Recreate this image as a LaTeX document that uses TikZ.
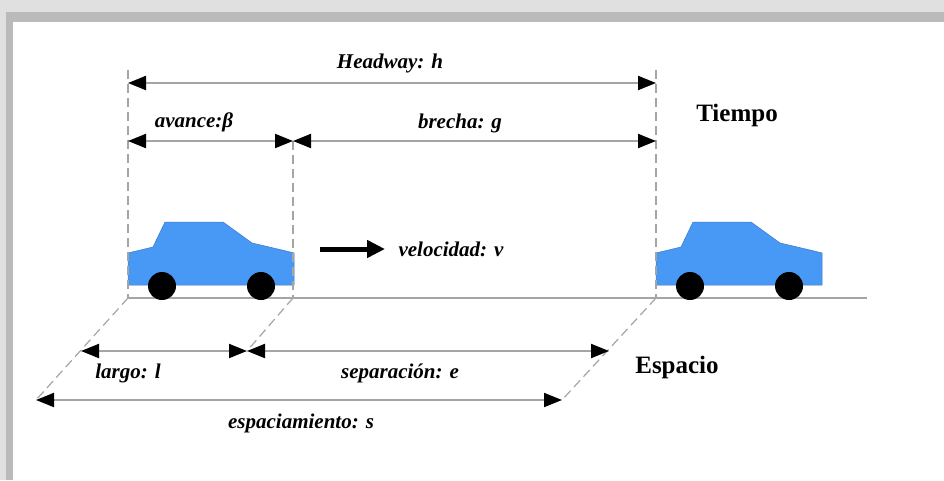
\documentclass[tikz,border=0pt]{standalone}
\usepackage{fontspec}
\setmainfont{Liberation Serif}
\usetikzlibrary{arrows.meta}
\definecolor{carblue}{RGB}{72,152,245}
\definecolor{dimgray}{RGB}{165,165,165}
\tikzset{
  dimline/.style={draw=dimgray, line width=2pt,
    {Triangle[length=18pt,width=14pt,color=black]}-{Triangle[length=18pt,width=14pt,color=black]}},
  guide/.style={draw=dimgray, line width=1.2pt, dash pattern=on 9pt off 5pt},
  lbl/.style={font=\fontsize{21}{21}\selectfont\bfseries\itshape},
  axislbl/.style={font=\fontsize{25}{25}\selectfont\bfseries},
}
\begin{document}
\begin{tikzpicture}[x=1pt, y=-1pt]
  \useasboundingbox (0,0) rectangle (944,480);
  \fill[white] (0,0) rectangle (944,480);
  \fill[black!12] (0,0) rectangle (944,12);
  \fill[black!12] (0,0) rectangle (6,480);
  \fill[black!27] (6,12) rectangle (944,22);
  \fill[black!27] (6,12) rectangle (13,480);

  \coordinate (hL) at (128,83);
  \coordinate (hR) at (656,83);
  \coordinate (aL) at (128,141);
  \coordinate (aM) at (293,141);
  \coordinate (aR) at (656,141);
  \coordinate (tL) at (128,70);
  \coordinate (tR) at (656,70);
  \coordinate (g1) at (128,298);
  \coordinate (g2) at (293,298);
  \coordinate (g3) at (656,298);
  \coordinate (gE) at (867,298);
  \coordinate (lL) at (81,351);
  \coordinate (lM) at (247,351);
  \coordinate (lR) at (609,351);
  \coordinate (sL) at (36,400);
  \coordinate (sR) at (562,400);
  \coordinate (v0) at (320,249);
  \coordinate (v1) at (385,249);

  \draw[dimgray, line width=1.5pt] (g1) -- (gE);
  % cars
  \foreach \dx in {0,528} {
    \begin{scope}[xshift=\dx pt]
      \fill[carblue, draw=carblue!80!black, line width=0.5pt]
        (128,285) -- (128,253) -- (153,247) -- (165,222) -- (223,222)
        -- (252,243) -- (282,250) -- (294,253) -- (294,285) -- cycle;
      \fill[black] (162,286) circle (14);
      \fill[black] (261,286) circle (14);
    \end{scope}
  }

  \draw[guide] (tL) -- (g1);
  \draw[guide] (aM) -- (g2);
  \draw[guide] (tR) -- (g3);
  \draw[guide] (g1) -- (sL);
  \draw[guide] (g2) -- (lM);
  \draw[guide] (g3) -- (sR);

  \draw[dimline] (hL) -- (hR);
  \draw[dimline] (aL) -- (aM);
  \draw[dimline] (aM) -- (aR);
  \draw[dimline] (lL) -- (lM);
  \draw[dimline] (lM) -- (lR);
  \draw[dimline] (sL) -- (sR);
  \draw[line width=5pt, -{Triangle[length=18pt,width=17pt]}] (v0) -- (v1);

  \node[lbl] (headway) at (390,63) {Headway: h};
  \node[lbl] (avance) at (194,122) {avance:β};
  \node[lbl] (brecha) at (460,123) {brecha: g};
  \node[axislbl] (tiempo) at (737,115) {Tiempo};
  \node[lbl] (velocidad) at (451,249) {velocidad: v};
  \node[lbl] (largo) at (128,373) {largo: l};
  \node[lbl] (separacion) at (400,373) {separación: e};
  \node[lbl] (espaciamiento) at (301,423) {espaciamiento: s};
  \node[axislbl] (espacio) at (677,367) {Espacio};
\end{tikzpicture}
\end{document}
